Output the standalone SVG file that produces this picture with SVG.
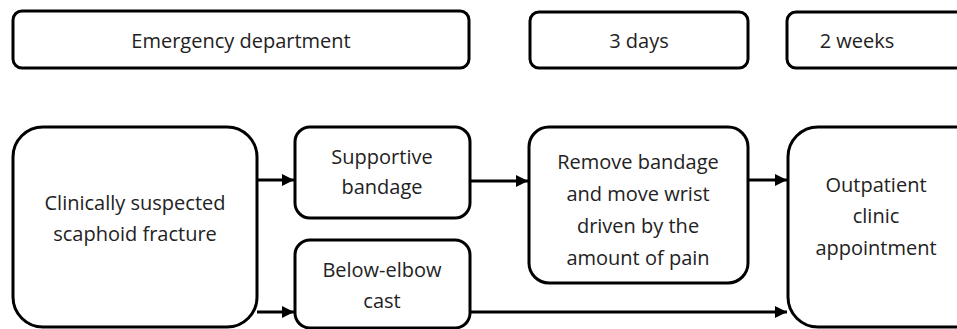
<svg xmlns="http://www.w3.org/2000/svg" width="957" height="329" viewBox="0 0 957 329">
<defs>
<style>
.box{fill:#fff;stroke:#000;stroke-width:3}
.t{font-family:"Open Sans","Liberation Sans",sans-serif;font-size:20px;fill:#222;text-anchor:middle}
.c{stroke:#000;stroke-width:3;fill:none}
</style>
<marker id="ah" viewBox="0 0 10 10" refX="10" refY="5" markerWidth="4" markerHeight="4" orient="auto" markerUnits="strokeWidth">
<path d="M0,0 L10,5 L0,10 z" fill="#000"/>
</marker>
</defs>
<rect width="957" height="329" fill="#fff"/>
<g id="n-ed"><rect class="box" x="13" y="11" width="456" height="57" rx="9"/><text class="t" x="241" y="48">Emergency department</text></g>
<g id="n-3d"><rect class="box" x="530" y="12" width="218" height="56" rx="9"/><text class="t" x="639" y="48">3 days</text></g>
<g id="n-2w"><rect class="box" x="787" y="12" width="190" height="56" rx="9"/><text class="t" x="857" y="48">2 weeks</text></g>
<g id="n-susp"><rect class="box" x="13" y="127" width="244" height="200" rx="30"/><text class="t" x="135" y="210">Clinically suspected</text><text class="t" x="135" y="241">scaphoid fracture</text></g>
<g id="n-band"><rect class="box" x="295" y="127" width="175" height="91" rx="15"/><text class="t" x="382" y="164">Supportive</text><text class="t" x="382" y="194">bandage</text></g>
<g id="n-cast"><rect class="box" x="295" y="240" width="175" height="88" rx="15"/><text class="t" x="382" y="277">Below-elbow</text><text class="t" x="382" y="308">cast</text></g>
<g id="n-remove"><rect class="box" x="529" y="127" width="219" height="156" rx="20"/><text class="t" x="638" y="169">Remove bandage</text><text class="t" x="638" y="201">and move wrist</text><text class="t" x="638" y="233">driven by the</text><text class="t" x="638" y="265">amount of pain</text></g>
<g id="n-out"><rect class="box" x="788" y="127" width="200" height="200" rx="30"/><text class="t" x="876" y="192">Outpatient</text><text class="t" x="876" y="223">clinic</text><text class="t" x="876" y="255">appointment</text></g>
<g id="connectors">
<line class="c" x1="257" y1="180" x2="294" y2="180" marker-end="url(#ah)"/>
<line class="c" x1="257" y1="312" x2="294" y2="312" marker-end="url(#ah)"/>
<line class="c" x1="470" y1="181" x2="528" y2="181" marker-end="url(#ah)"/>
<line class="c" x1="748" y1="180" x2="787" y2="180" marker-end="url(#ah)"/>
<line class="c" x1="470" y1="312" x2="787" y2="312" marker-end="url(#ah)"/>
</g>
</svg>
